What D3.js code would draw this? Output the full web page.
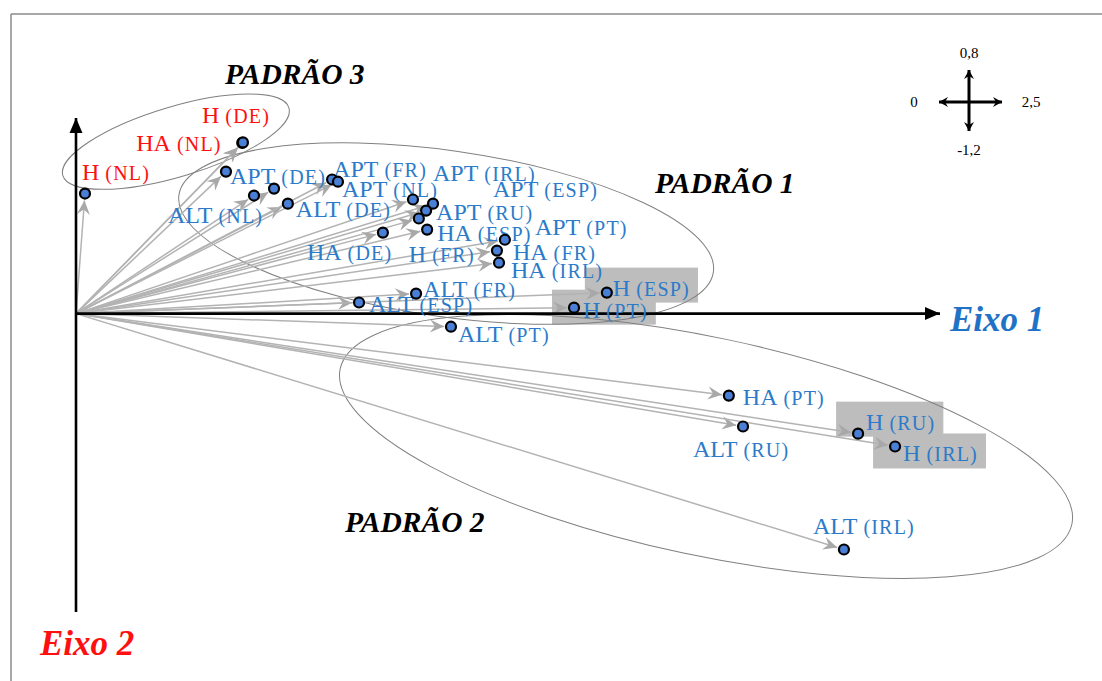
<!DOCTYPE html>
<html>
<head>
<meta charset="utf-8">
<script src="https://cdn.jsdelivr.net/npm/d3@7"></script>
<style>
body { margin: 0; background: #fff; }
svg { display: block; }
</style>
</head>
<body>
<svg id="chart" width="1102" height="681"></svg>
<script>
// variables (ponto) e coordenadas nos eixos 1 e 2
const names = ["APT (DE)", "ALT (NL)", "HA (RU)", "ALT (DE)", "APT (FR)", "APT (NL)",
    "APT (ESP)", "APT (IRL)", "APT (RU)", "H (FR)", "HA (ESP)", "HA (DE)",
    "APT (PT)", "HA (FR)", "HA (IRL)", "ALT (FR)", "ALT (ESP)", "H (ESP)",
    "H (PT)", "ALT (PT)", "HA (PT)", "ALT (RU)", "H (RU)", "H (IRL)",
    "ALT (IRL)", "H (NL)", "HA (NL)", "H (DE)"]
const eixo1 = [0.434, 0.515, 0.573, 0.613, 0.741, 0.758,
    0.975, 1.033, 1.013, 0.992, 1.016, 0.888,
    1.241, 1.218, 1.224, 0.984, 0.819, 1.536,
    1.441, 1.085, 1.889, 1.930, 2.263, 2.370,
    2.222, 0.026, 0.481, 0.483]
const eixo2 = [0.575, 0.478, 0.506, 0.445, 0.543, 0.534,
    0.462, 0.445, 0.417, 0.385, 0.340, 0.328,
    0.299, 0.255, 0.206, 0.081, 0.045, 0.085,
    0.024, -0.053, -0.332, -0.457, -0.486, -0.538,
    -0.955, 0.486, 0.691, 0.693]

// label placement relative to each point (px); null = no label
const labelDx = [4, -86, null, 8, 1, 4, 80, 0, 10, -10, 10, -76,
    30, 16, 12, 7, 10, 6, 9, 7, 14, -50, 8, 8, -31, -3, -106, -41]
const labelDy = [12, 27, null, 13, -2, 15, -2, -23, 9, 43, 11, 27,
    -5, 9, 15, 3, 10, 3, 10, 15, 9, 31, -4, 15, -15, -14, 8, -19]

const redPoints = ["H (NL)", "HA (NL)", "H (DE)"]
const highlighted = ["H (ESP)", "H (PT)", "H (RU)", "H (IRL)"]

const scaleTicks = ["0,8", "0", "2,5", "-1,2"]

// padrões: centro em coordenadas dos eixos
const padraoNames = ["PADRÃO 1", "PADRÃO 2", "PADRÃO 3"]
const padraoCx = [1.071, 1.823, 0.289]
const padraoCy = [0.324, -0.538, 0.696]

const svg = d3.select("#chart")
const BLUE = "#2b7bca"
const RED = "#ff1010"
const SERIF = "'Liberation Serif', 'Times New Roman', serif"

let x = d3.scaleLinear().domain([0, 2.5]).range([76, 940])
let y = d3.scaleLinear().domain([-1.2, 0.8]).range([610, 116])

let points = names.map(function(n, i) {
    return {name: n, x: eixo1[i], y: eixo2[i], dx: labelDx[i], dy: labelDy[i]}
})

// frame
svg.append("line").attr("x1", 11).attr("y1", 14).attr("x2", 1102).attr("y2", 14)
    .attr("stroke", "#8a8a8a").attr("stroke-width", 1.5)
svg.append("line").attr("x1", 11).attr("y1", 14).attr("x2", 11).attr("y2", 681)
    .attr("stroke", "#8a8a8a").attr("stroke-width", 1.5)

let defs = svg.append("defs")
defs.append("marker").attr("id", "grayhead")
    .attr("viewBox", "-15 -8 17 16").attr("markerUnits", "userSpaceOnUse")
    .attr("markerWidth", 17).attr("markerHeight", 16)
    .attr("refX", 0).attr("refY", 0).attr("orient", "auto")
    .append("path").attr("d", "M0,0 L-14,-6.5 L-9,0 L-14,6.5 Z").attr("fill", "#a8a8a8")
defs.append("marker").attr("id", "blackhead")
    .attr("viewBox", "-16 -8 17 16").attr("markerUnits", "userSpaceOnUse")
    .attr("markerWidth", 17).attr("markerHeight", 16)
    .attr("refX", 0).attr("refY", 0).attr("orient", "auto")
    .append("path").attr("d", "M0,0 L-15,-6.5 L-15,6.5 Z").attr("fill", "#000")
defs.append("marker").attr("id", "smallhead")
    .attr("viewBox", "-10 -6 11 12").attr("markerUnits", "userSpaceOnUse")
    .attr("markerWidth", 11).attr("markerHeight", 12)
    .attr("refX", 0).attr("refY", 0).attr("orient", "auto-start-reverse")
    .append("path").attr("d", "M0,0 L-9,-5 L-6,0 L-9,5 Z").attr("fill", "#000")

let gBox = svg.append("g")
let gEll = svg.append("g")
let gArrow = svg.append("g")
let gAxis = svg.append("g")
let gLabel = svg.append("g")
let gDot = svg.append("g")

// ellipses
let ellRx = [270, 374, 118]
let ellRy = [83, 109, 35]
let ellAngle = [8.2, 12, -16.7]
padraoNames.forEach(function(p, i) {
    gEll.append("ellipse")
        .attr("cx", 0).attr("cy", 0)
        .attr("rx", ellRx[i]).attr("ry", ellRy[i])
        .attr("transform", "translate(" + x(padraoCx[i]) + "," + y(padraoCy[i]) + ") rotate(" + ellAngle[i] + ")")
        .attr("fill", "none").attr("stroke", "#808080").attr("stroke-width", 1)
})

// arrows from origin
let ox = x(0), oy = y(0)
points.forEach(function(p) {
    let px = x(p.x), py = y(p.y)
    let len = Math.hypot(px - ox, py - oy)
    let k = (len - 7) / len
    gArrow.append("line")
        .attr("x1", ox).attr("y1", oy)
        .attr("x2", ox + (px - ox) * k).attr("y2", oy + (py - oy) * k)
        .attr("stroke", "#b3b3b3").attr("stroke-width", 1.5)
        .attr("marker-end", "url(#grayhead)")
})

// main axes
gAxis.append("line").attr("x1", ox).attr("y1", oy).attr("x2", x(2.5)).attr("y2", oy)
    .attr("stroke", "#000").attr("stroke-width", 2.6).attr("marker-end", "url(#blackhead)")
gAxis.append("line").attr("x1", ox).attr("y1", 612).attr("x2", ox).attr("y2", 118)
    .attr("stroke", "#000").attr("stroke-width", 2.6).attr("marker-end", "url(#blackhead)")

gAxis.append("text").attr("x", 950).attr("y", 331)
    .attr("font-family", SERIF).attr("font-size", 35).attr("font-weight", "bold")
    .attr("font-style", "italic").attr("fill", "#1f72c6").text("Eixo 1")
gAxis.append("text").attr("x", 40).attr("y", 655)
    .attr("font-family", SERIF).attr("font-size", 35).attr("font-weight", "bold")
    .attr("font-style", "italic").attr("fill", RED).text("Eixo 2")

// padrão titles
let padraoTx = [655, 345, 225]
let padraoTy = [193, 532, 84]
padraoNames.forEach(function(p, i) {
    gAxis.append("text").attr("x", padraoTx[i]).attr("y", padraoTy[i])
        .attr("font-family", SERIF).attr("font-size", 29.5).attr("font-weight", "bold")
        .attr("font-style", "italic").attr("fill", "#000").text(p)
})

// scale cross (top right)
let sc = {cx: 969, cy: 102}
gAxis.append("line").attr("x1", sc.cx - 30).attr("y1", sc.cy).attr("x2", sc.cx + 33).attr("y2", sc.cy)
    .attr("stroke", "#000").attr("stroke-width", 3)
    .attr("marker-start", "url(#smallhead)").attr("marker-end", "url(#smallhead)")
gAxis.append("line").attr("x1", sc.cx).attr("y1", sc.cy - 32).attr("x2", sc.cx).attr("y2", sc.cy + 29)
    .attr("stroke", "#000").attr("stroke-width", 3)
    .attr("marker-start", "url(#smallhead)").attr("marker-end", "url(#smallhead)")
let tickPos = [[sc.cx, sc.cy - 44, "middle"], [sc.cx - 55, sc.cy + 5, "middle"],
    [sc.cx + 62, sc.cy + 5, "middle"], [sc.cx, sc.cy + 53, "middle"]]
scaleTicks.forEach(function(t, i) {
    gAxis.append("text").attr("x", tickPos[i][0]).attr("y", tickPos[i][1])
        .attr("text-anchor", tickPos[i][2])
        .attr("font-family", SERIF).attr("font-size", 15).attr("fill", "#000").text(t)
})

// labels
points.forEach(function(p) {
    if (p.dx === null) return
    let parts = p.name.split(" ")
    let color = redPoints.includes(p.name) ? RED : BLUE
    let lx = x(p.x) + p.dx, ly = y(p.y) + p.dy
    let t = gLabel.append("text")
        .attr("x", lx).attr("y", ly)
        .attr("font-family", SERIF).attr("fill", color)
    t.append("tspan").attr("font-size", 24).text(parts[0])
    t.append("tspan").attr("font-size", 20).attr("dx", 6)
        .attr("letter-spacing", 1.2).text(parts[1])
    if (highlighted.includes(p.name)) {
        let bb = t.node().getBBox()
        let left = x(p.x) - 22
        gBox.append("rect")
            .attr("x", left).attr("y", ly - 28)
            .attr("width", bb.x + bb.width + 8 - left)
            .attr("height", 35)
            .attr("fill", "#bdbdbd")
    }
})

// dots
gDot.selectAll("circle").data(points).join("circle")
    .attr("cx", d => x(d.x)).attr("cy", d => y(d.y)).attr("r", 5)
    .attr("fill", "#4a7fd6").attr("stroke", "#000").attr("stroke-width", 2.2)
</script>
</body>
</html>
